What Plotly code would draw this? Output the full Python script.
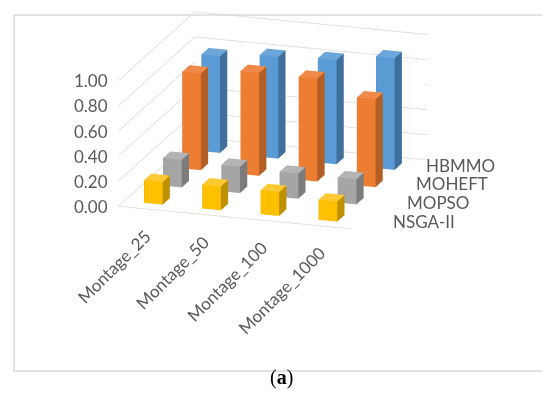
import plotly.graph_objects as go

categories = ["Montage_25", "Montage_50", "Montage_100", "Montage_1000"]
series_names = ["NSGA-II", "MOPSO", "MOHEFT", "HBMMO"]
nsga2 = [0.18, 0.19, 0.19, 0.16]
mopso = [0.22, 0.21, 0.20, 0.20]
moheft = [0.77, 0.82, 0.82, 0.70]
hbmmo = [0.77, 0.81, 0.83, 0.89]
series_values = [nsga2, mopso, moheft, hbmmo]
z_ticks = [0.0, 0.2, 0.4, 0.6, 0.8, 1.0]
z_tick_labels = ["0.00", "0.20", "0.40", "0.60", "0.80", "1.00"]

# face colours: (front, side, top)
palette = [
    ("#FFC000", "#BF9000", "#FFC933"),
    ("#A5A5A5", "#7C7C7C", "#B4B4B4"),
    ("#ED7D31", "#B25E25", "#F0894A"),
    ("#5B9BD5", "#3F6F9C", "#6CA6DA"),
]
# label offsets for the depth-axis labels (px), mimicking the reference perspective
series_label_dx = [30, 25, 15, 6]
series_label_dy = [-1, 1, 2, 3]

W = 0.32  # bar width (category units)
D = 0.38  # bar depth (series units)
xmin, xmax = -0.5, len(categories) - 0.5
ymin, ymax = -0.5, len(series_names) - 0.5
GRID = "#D9D9D9"
TXT = "#595959"

fig = go.Figure()

for z in z_ticks:
    fig.add_trace(go.Scatter3d(x=[xmin, xmin, xmax], y=[ymin, ymax, ymax], z=[z, z, z],
                               mode="lines", line=dict(color=GRID, width=1.5),
                               hoverinfo="skip", showlegend=False))
fig.add_trace(go.Scatter3d(x=[xmin, xmax], y=[ymin, ymin], z=[0, 0], mode="lines",
                           line=dict(color=GRID, width=1.5), hoverinfo="skip", showlegend=False))

for s, (name, vals) in enumerate(zip(series_names, series_values)):
    front, side, top = palette[s]
    X, Y, Z, I, J, K, FC = [], [], [], [], [], [], []
    for c, v in enumerate(vals):
        x0, x1 = c - W / 2, c + W / 2
        y0, y1 = s - D / 2, s + D / 2
        b = len(X)
        for (xx, yy, zz) in [(x0, y0, 0), (x1, y0, 0), (x1, y1, 0), (x0, y1, 0),
                             (x0, y0, v), (x1, y0, v), (x1, y1, v), (x0, y1, v)]:
            X.append(xx); Y.append(yy); Z.append(zz)
        faces = [
            ((0, 1, 5), front), ((0, 5, 4), front),
            ((1, 2, 6), side), ((1, 6, 5), side),
            ((4, 5, 6), top), ((4, 6, 7), top),
            ((3, 2, 6), side), ((3, 6, 7), side),
            ((0, 3, 7), side), ((0, 7, 4), side),
            ((0, 1, 2), side), ((0, 2, 3), side),
        ]
        for (a, bb, cc), col in faces:
            I.append(b + a); J.append(b + bb); K.append(b + cc); FC.append(col)
    fig.add_trace(go.Mesh3d(x=X, y=Y, z=Z, i=I, j=J, k=K, facecolor=FC, flatshading=True,
                            lighting=dict(ambient=1, diffuse=0, specular=0, fresnel=0, roughness=1),
                            name=name, hoverinfo="skip", showlegend=False))

ann = []
for z, t in zip(z_ticks, z_tick_labels):
    ann.append(dict(x=xmin, y=ymin, z=z, text=t, showarrow=False, xanchor="right",
                    yanchor="middle", xshift=-8, font=dict(family="Lato", size=17, color=TXT)))
for c, cat in enumerate(categories):
    ann.append(dict(x=c, y=ymin, z=0, text=cat, showarrow=False, textangle=-45,
                    xanchor="right", yanchor="top", xshift=10, yshift=-14,
                    font=dict(family="Lato", size=17, color=TXT)))
for s, name in enumerate(series_names):
    ann.append(dict(x=xmax, y=s, z=0, text=name, showarrow=False, xanchor="left",
                    yanchor="middle", xshift=series_label_dx[s], yshift=series_label_dy[s],
                    font=dict(family="Lato", size=17, color=TXT)))

ax = dict(visible=False, showgrid=False, zeroline=False, showbackground=False,
          showspikes=False)
e = (0.298, -0.907, 0.296)
k = 1.40
sc = 1.113
fig.update_layout(
    width=550, height=399,
    margin=dict(l=0, r=0, t=0, b=0),
    paper_bgcolor="white",
    scene=dict(
        domain=dict(x=[0.0, 0.964], y=[0.408, 1.0]),
        xaxis=dict(ax, range=[xmin, xmax]),
        yaxis=dict(ax, range=[ymin, ymax]),
        zaxis=dict(ax, range=[0, 1]),
        aspectmode="manual",
        aspectratio=dict(x=1.866 * sc, y=1.866 * sc, z=1.0 * sc),
        camera=dict(eye=dict(x=e[0] * k, y=e[1] * k, z=e[2] * k - 0.05),
                    center=dict(x=0, y=0, z=-0.05),
                    up=dict(x=0, y=0, z=1), projection=dict(type="orthographic")),
        annotations=ann,
    ),
    shapes=[dict(type="rect", xref="paper", yref="paper", x0=6 / 550, x1=544 / 550,
                 y0=1 - 363 / 399, y1=1 - 7 / 399, line=dict(color="#D9D9D9", width=1.5))],
    annotations=[dict(xref="paper", yref="paper", x=273 / 550, y=1 - 383 / 399, text="(<b>a</b>)",
                      showarrow=False, font=dict(family="Liberation Serif", size=20, color="black"))],
)
fig.write_html("out.html")
